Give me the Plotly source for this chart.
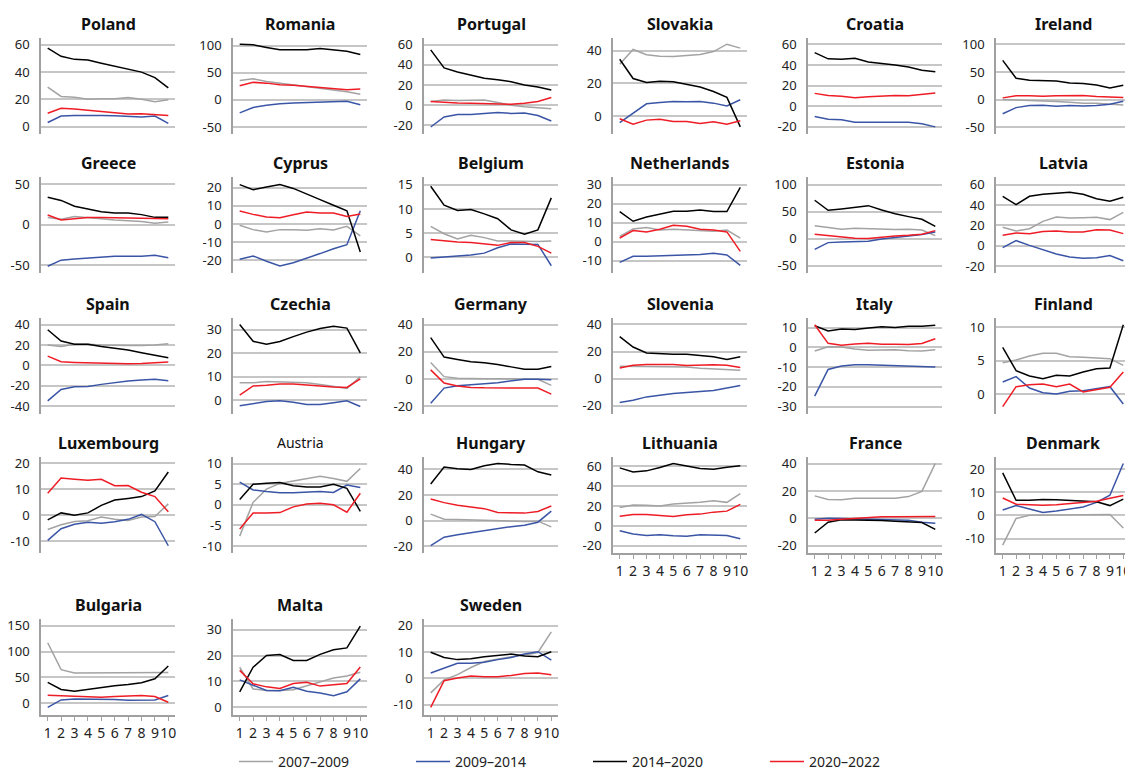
import plotly.graph_objects as go

# x positions (1..10) shared by every panel
X = list(range(1, 11))
PERIODS = ["2007–2009", "2009–2014", "2014–2020", "2020–2022"]
COLORS = ["#a3a3a3", "#3a55a6", "#000000", "#ee1c25"]

COUNTRIES = [
    "Poland", "Romania", "Portugal", "Slovakia", "Croatia", "Ireland",
    "Greece", "Cyprus", "Belgium", "Netherlands", "Estonia", "Latvia",
    "Spain", "Czechia", "Germany", "Slovenia", "Italy", "Finland",
    "Luxembourg", "Austria", "Hungary", "Lithuania", "France", "Denmark",
    "Bulgaria", "Malta", "Sweden",
]

# each country: rows in PERIODS order (None = no data)
poland = [
    [29, 22.2, 21.7, 20.2, 20.5, 20.5, 21.5, 20.2, 18.3, 19.8],
    [3.2, 7.9, 8.4, 8.6, 8.4, 8.1, 7.7, 7.2, 7.9, 2.5],
    [57.5, 51.5, 49.3, 48.8, 46.5, 44.5, 42.5, 40, 36, 28.5],
    [9.9, 13.6, 13.1, 12.1, 11.4, 10.4, 9.4, 9.6, 9.1, 8.4],
]
romania = [
    [36, 39, 34, 31, 27.5, 24, 22, 19, 15, 10.6],
    [-24, -14, -10, -7, -5.6, -5, -4.4, -3, -2.5, -9],
    [103, 102, 97, 92.5, 92.5, 92.5, 95, 92, 90, 84],
    [26, 32.5, 31, 28, 27, 25, 24, 22, 19, 20],
]
portugal = [
    [3.4, 5, 4.4, 5, 5, 2.4, -0.3, -1.7, -3, -3.7],
    [-22, -12, -9.5, -9.5, -8.4, -7.4, -8.4, -8, -10.5, -16],
    [55, 37, 33, 30, 26.7, 25.3, 23.3, 20, 18, 15],
    [3.4, 2.4, 2, 1.7, 1.4, 0.7, 0.7, 1.7, 3.4, 7.4],
]
slovakia = [
    [31.7, 40.8, 37.5, 36.6, 36.4, 37, 37.7, 39.5, 44, 41.6],
    [-4, 2, 7.5, 8.3, 8.9, 8.7, 8.9, 7.9, 6.2, 10],
    [34.8, 23, 20.5, 21.3, 21, 19.5, 17.8, 15, 11.4, -6.6],
    [-1.7, -5, -2.5, -1.9, -3.3, -3.3, -4.6, -3.5, -5, -2.9],
]
croatia = [
    None,
    [-10, -12.5, -13, -15.4, -15.4, -15.4, -15.4, -15.4, -17, -20],
    [52, 46, 45.6, 46.6, 43, 41.6, 40, 38, 35, 33.4],
    [12.5, 10.5, 9.8, 8.2, 9.2, 10.2, 10.5, 10.2, 11.5, 12.8],
]
ireland = [
    [0, -0.6, -1.8, -3, -3.7, -5, -6.7, -6.7, -8, -9.8],
    [-25.8, -14.7, -11, -10.4, -12.3, -11, -11.7, -11, -8.6, -3],
    [71, 38.6, 35, 35, 33.7, 30, 29, 26.4, 21, 25.8],
    [3, 6.7, 6.7, 6, 6.7, 7.4, 7.4, 5.5, 5, 3.7],
]
greece = [
    [8.7, 6.6, 10, 9, 7.4, 5.8, 5, 4, 1.6, 3.3],
    [-51.6, -44, -42.6, -41.3, -39.7, -39.3, -39.3, -39.3, -38, -41],
    [34, 30, 22.7, 19.4, 16, 14.5, 14.5, 12.4, 9, 9],
    [12, 5.8, 7.4, 8.7, 8.7, 8.3, 8.3, 8.3, 7.9, 7.4],
]
cyprus = [
    [-0.7, -3.1, -4.4, -3.1, -3.1, -3.5, -2.6, -3.3, -1.3, -6.6],
    [-19.4, -17.6, -20.5, -23.1, -21.3, -18.9, -16.3, -13.6, -11.4, 7.3],
    [21.7, 18.9, 20.4, 21.8, 19.6, 16.3, 13.4, 10.3, 7.3, -15.4],
    [7.2, 5.3, 3.9, 3.5, 5.1, 6.6, 6, 6, 4.2, 5.5],
]
belgium = [
    [6.4, 4.9, 3.8, 4.6, 4.1, 3.4, 3.4, 3.3, 3.3, 3.4],
    [-0.1, 0.1, 0.2, 0.5, 0.9, 2, 2.8, 2.8, 2.7, -1.7],
    [14.7, 10.8, 9.7, 9.9, 9, 8, 5.7, 4.8, 5.7, 12.3],
    [3.7, 3.4, 3.2, 3.1, 2.8, 2.5, 3.1, 3.1, 2.3, 0.9],
]
netherlands = [
    [2.8, 6.7, 7.4, 6.1, 6.5, 6.1, 5.6, 5.4, 6.1, 1.9],
    [-10.9, -7.7, -7.7, -7.4, -7.4, -7, -6.8, -6.1, -7, -12.5],
    [15.8, 10.7, 13, 14.4, 16, 16, 16.7, 15.8, 15.8, 28.6],
    [1.9, 5.8, 5.1, 6.5, 8.6, 8.1, 6.5, 6.1, 5.1, -5.1],
]
estonia = [
    [24, 21, 17.3, 19, 18, 16.7, 16.7, 17.3, 16, 5.6],
    [-20, -7.4, -6.2, -5.6, -5, -0.6, 1.8, 4.3, 7.4, 12.3],
    [71, 52.5, 55, 58.6, 61, 53, 46, 40.7, 35.8, 22.8],
    [8, 5.6, 3.7, 0.6, 0, 3, 5, 6.2, 8, 14.8],
]
latvia = [
    [18, 14.4, 16.7, 23.9, 28.2, 27.2, 27.5, 27.9, 25.6, 32.8],
    [-2, 4.9, 0.3, -4.3, -8.2, -11.1, -12.5, -11.8, -9.8, -14.8],
    [48.5, 40.3, 48.5, 50.5, 51.5, 52.5, 50.5, 46.2, 43.6, 47.5],
    [10.2, 12.5, 11.8, 13.8, 14.4, 13.4, 13.4, 15.7, 15.4, 11.8],
]
spain = [
    [20, 18.5, 20.8, 20.8, 20, 19.5, 19.5, 19.5, 20, 21.4],
    [-34.7, -23.4, -20.8, -20.5, -18.5, -16.5, -15.2, -14.2, -13.5, -14.9],
    [35, 24, 20.8, 20.8, 18.5, 16.8, 15.2, 12.5, 10.2, 7.6],
    [9.2, 3.6, 3, 2.6, 2.3, 2, 1.7, 2, 3, 3.3],
]
czechia = [
    [7.4, 7.4, 7.9, 7.7, 7.6, 7.4, 6.6, 5.7, 5, 9.9],
    [-2.4, -1.4, -0.6, -0.3, -0.9, -1.9, -1.9, -1.1, -0.3, -2.7],
    [32.1, 25, 23.7, 24.9, 27, 28.9, 30.4, 31.4, 30.6, 20.1],
    [2.1, 6, 6.3, 6.9, 6.9, 6.4, 6, 5.6, 5.4, 9],
]
germany = [
    [12.2, 1.7, 0.5, 0.2, 0.2, 0.2, 0.2, 0, -0.2, -4.7],
    [-17.9, -6.7, -5, -4, -3.5, -2.7, -1.5, -0.2, -0.2, -0.5],
    [30.5, 16.1, 14.4, 12.7, 11.9, 10.7, 8.9, 7.2, 7.2, 9.2],
    [6.7, -3, -5.2, -6.2, -6.5, -6.5, -6.5, -6.5, -6.7, -11.2],
]
slovenia = [
    [9.2, 9.2, 8.9, 8.7, 8.9, 8.7, 7.7, 7.2, 6.7, 6.2],
    [-17.6, -15.9, -13.4, -11.9, -10.9, -10.2, -9.4, -8.7, -6.9, -5],
    [31, 23.3, 19, 18.4, 18, 18, 17.1, 16.1, 14.1, 16.1],
    [7.9, 9.9, 10.4, 10.4, 10.4, 9.7, 10.2, 10.2, 9.9, 8.2],
]
italy = [
    [-1.9, 0.3, 0.2, -0.9, -1.5, -1.2, -1.2, -1.7, -1.9, -1.2],
    [-24.7, -11.2, -9.5, -8.8, -8.8, -9, -9.1, -9.4, -9.4, -9.9],
    [10.9, 8.3, 9.2, 9, 9.7, 10.4, 10, 10.6, 10.6, 11.1],
    [11.4, 2, 1, 1.7, 2, 1.5, 1.5, 1.4, 1.9, 4.3],
]
finland = [
    [4.7, 5.1, 5.7, 6.1, 6.1, 5.6, 5.5, 5.4, 5.3, 4.3],
    [1.8, 2.6, 0.9, 0.2, 0, 0.4, 0.5, 0.8, 1.1, -1.5],
    [7, 3.5, 2.7, 2.3, 2.8, 2.7, 3.3, 3.8, 3.9, 10.4],
    [-1.9, 1.1, 1.4, 1.5, 1.1, 1.5, 0.3, 0.6, 1, 3.3],
]
luxembourg = [
    [-5.5, -3.7, -2.4, -2.1, -0.7, -1.6, -2, -0.7, -0.5, 4.4],
    [-9.7, -5.2, -3.5, -2.7, -3.1, -2.5, -1.6, 0.3, -2.5, -11.8],
    [-1.8, 0.9, 0, 0.9, 3.8, 5.9, 6.5, 7.2, 9.4, 16.7],
    [8.5, 14.4, 13.9, 13.5, 13.9, 11.4, 11.5, 8.9, 7.2, 1.3],
]
austria = [
    [-7.6, 0.6, 3.8, 5.2, 5.8, 6.3, 6.9, 6.4, 5.7, 8.8],
    [5.5, 3.6, 3.2, 2.9, 2.9, 3, 3.2, 3, 4.8, 4.2],
    [1.3, 5, 5.2, 5.4, 4.6, 4.3, 4.3, 5, 4, -1.6],
    [-5.9, -2, -2, -1.9, -0.5, 0.2, 0.4, 0, -1.8, 2.8],
]
hungary = [
    [5, 1, 0.8, 0.5, 0.3, 0, -0.5, -0.8, -0.5, -5],
    [-19.6, -13, -11.1, -9.5, -8.2, -6.3, -4.8, -3.7, -1.3, 7.4],
    [28.6, 41.8, 40.5, 40, 42.9, 44.7, 43.9, 43.4, 38.1, 35.7],
    [16.9, 14, 11.9, 10.6, 9.3, 6.3, 5.8, 5.8, 7.1, 11.4],
]
lithuania = [
    [18.6, 21, 20.7, 20, 22, 22.7, 23.7, 25.4, 23.7, 32.5],
    [-4.7, -8.1, -9.5, -8.8, -9.8, -10.2, -8.8, -9.5, -9.5, -12.9],
    [58.3, 54.2, 55.3, 58.6, 62.7, 60, 57.6, 56.9, 59, 60.3],
    [9.8, 11.5, 11.5, 10.5, 9.5, 11.2, 11.9, 13.9, 14.9, 21.7],
]
france = [
    [16.5, 13.8, 13.6, 14.8, 14.8, 14.8, 14.8, 16, 19.8, 40.2],
    [-0.5, 0.2, 0, -0.2, -0.2, -0.5, -0.7, -1.2, -2.7, -3.5],
    [-10.6, -2.7, -1, -1, -1.2, -1.5, -2, -2.5, -3, -7.9],
    [-1.2, -1.2, -0.5, 0.2, 0.7, 1.2, 1.2, 1.2, 1.2, 1.5],
]
denmark = [
    [-12.9, -1.3, 0.1, 0.1, 0.1, 0.3, 0.3, 0.4, 0.4, -5.4],
    [2.4, 4.3, 2.8, 1.3, 1.9, 2.8, 3.7, 5.7, 8.8, 22.6],
    [18.5, 6.6, 6.6, 6.9, 6.8, 6.5, 6.3, 6, 4.3, 7.1],
    [7.6, 4.9, 4.7, 4.4, 4.7, 5.1, 5.7, 6.2, 7.5, 8.7],
]
bulgaria = [
    [117, 65, 58.4, 58.4, 59.7, 59, 58.4, 58.4, 59.7, 59.7],
    [-7.8, 6.5, 8.4, 8.4, 7.1, 7.1, 5.8, 5.8, 6.5, 14.9],
    [40.3, 26.6, 23.4, 27.3, 30.5, 33.8, 36.4, 39.6, 47.4, 72],
    [15.6, 14.3, 13, 11.7, 11.7, 13, 14.3, 14.9, 13, 1.9],
]
malta = [
    [15.5, 7.1, 6.5, 6.5, 6.8, 8.4, 9.7, 11.3, 12.1, 13.6],
    [10.6, 8.4, 6.5, 6.4, 7.7, 6.2, 5.5, 4.5, 6, 11],
    [6, 15.5, 20.1, 20.4, 18.1, 18.1, 20.5, 22.3, 23, 31.4],
    [14.3, 9.1, 7.9, 7.3, 9.2, 9.7, 8.2, 8.6, 9.2, 15.6],
]
sweden = [
    [-5.5, -0.6, 1.4, 4.1, 6.4, 7.3, 8.2, 8.8, 9.8, 17.6],
    [2, 3.9, 5.7, 5.7, 6.1, 7.1, 7.9, 9.2, 10.1, 6.9],
    [9.9, 7.9, 7.1, 7.4, 8.2, 8.7, 9.2, 8.5, 8.2, 10.1],
    [-11, -0.9, 0.1, 0.9, 0.6, 0.6, 1.1, 1.8, 2, 1.4],
]

DATA = dict(zip(COUNTRIES, [
    poland, romania, portugal, slovakia, croatia, ireland,
    greece, cyprus, belgium, netherlands, estonia, latvia,
    spain, czechia, germany, slovenia, italy, finland,
    luxembourg, austria, hungary, lithuania, france, denmark,
    bulgaria, malta, sweden,
]))

# y axis: (tick step, range low, range high)
Y_AXES = {
    "Poland": (20, -5.2, 64.9), "Romania": (50, -63, 114.4),
    "Portugal": (20, -29, 66.9), "Slovakia": (20, -11, 47.8),
    "Croatia": (20, -26.9, 66.2), "Ireland": (50, -62.6, 111.7),
    "Greece": (50, -59.9, 59), "Cyprus": (10, -27, 25.9),
    "Belgium": (5, -3.2, 16.6), "Netherlands": (10, -16.5, 34),
    "Estonia": (50, -63.6, 114), "Latvia": (20, -26.9, 67.5),
    "Spain": (20, -47.5, 46.5), "Czechia": (10, -5.9, 34.9),
    "Germany": (20, -25.8, 44.9), "Slovenia": (20, -26, 44.7),
    "Italy": (10, -33.7, 14.8), "Finland": (5, -3, 11.4),
    "Luxembourg": (10, -14.6, 22.5), "Austria": (5, -11.7, 11.6),
    "Hungary": (20, -25.4, 49.7), "Lithuania": (20, -27.1, 69.2),
    "France": (20, -25.2, 44.9), "Denmark": (10, -16.3, 25.4),
    "Bulgaria": (50, -22.7, 163), "Malta": (10, -3, 34.2),
    "Sweden": (10, -13.9, 22.5),
}

# page geometry (pixels in the 1133x772 window); the page body adds an 8px margin
OFF = 8
W, H = 1133 - OFF, 772 - OFF
COL_LEFT = [41, 233, 424, 613, 808, 996]
ROW_TOP = [38, 177, 318, 457, 619]
PLOT_W, PLOT_H = 134, 96
FONT = "Noto Sans"


def px(x):
    return (x - OFF) / W


def py(y):
    return 1 - (y - OFF) / H


fig = go.Figure()

for i, name in enumerate(COUNTRIES):
    r, c = divmod(i, 6)
    n = i + 1
    sfx = "" if n == 1 else str(n)
    for period, color, vals in zip(PERIODS, COLORS, DATA[name]):
        if vals is None:
            continue
        fig.add_trace(go.Scatter(
            x=X, y=vals, xaxis="x" + sfx, yaxis="y" + sfx,
            mode="lines", line=dict(color=color, width=1.5),
            name=period, legendgroup=period, showlegend=(i == 0),
        ))

    step, lo, hi = Y_AXES[name]
    k0 = int(-(-lo // step))
    k1 = int(hi // step)
    tv = [k * step for k in range(k0, k1 + 1)]
    bottom = i + 6 >= len(COUNTRIES)

    fig.layout["xaxis" + sfx] = dict(
        domain=[px(COL_LEFT[c]), px(COL_LEFT[c] + PLOT_W)],
        range=[0.5, 10.5], anchor="y" + sfx,
        showgrid=False, zeroline=False,
        showline=bottom, linecolor="#a0a0a0", linewidth=1.5,
        showticklabels=bottom, tickmode="array", tickvals=X, tickangle=0,
        ticks="outside" if bottom else "", ticklen=4, tickcolor="#a0a0a0",
        tickfont=dict(family=FONT, size=14, color="#222"),
    )
    fig.layout["yaxis" + sfx] = dict(
        domain=[py(ROW_TOP[r] + PLOT_H), py(ROW_TOP[r])],
        range=[lo, hi], anchor="x" + sfx,
        tickmode="array", tickvals=tv, ticktext=[str(v) for v in tv],
        showgrid=True, gridcolor="#c6c6c6", gridwidth=1.5, zeroline=False,
        showline=True, linecolor="#a0a0a0", linewidth=1.5,
        ticks="", ticklabelstandoff=7,
        tickfont=dict(family=FONT, size=13, color="#222"),
    )

    bold = name != "Austria"
    fig.add_annotation(
        x=px(COL_LEFT[c] + PLOT_W / 2), y=py(ROW_TOP[r] - 14),
        xref="paper", yref="paper", xanchor="center", yanchor="middle",
        text=f"<b>{name}</b>" if bold else name, showarrow=False,
        font=dict(family=FONT, size=16 if bold else 14, color="#111"),
    )

fig.update_layout(
    width=W, height=H,
    margin=dict(l=0, r=0, t=0, b=0, autoexpand=False),
    paper_bgcolor="white", plot_bgcolor="white",
    showlegend=True,
    legend=dict(
        orientation="h", x=px(234), y=-6 / H,
        xanchor="left", yanchor="bottom",
        entrywidth=128, entrywidthmode="pixels", itemwidth=34,
        font=dict(family=FONT, size=14, color="#222"),
        bgcolor="rgba(0,0,0,0)",
    ),
)

fig.write_html("out.html")
